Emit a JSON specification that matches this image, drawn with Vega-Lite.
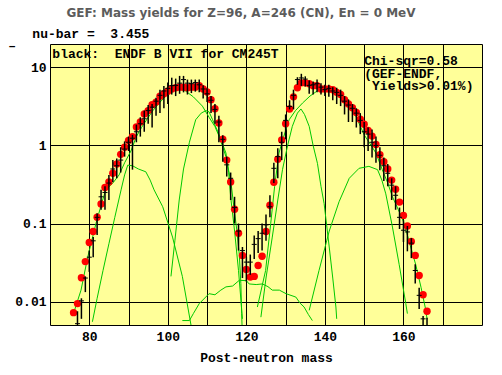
{
  "$schema": "https://vega.github.io/schema/vega-lite/v6.json",
  "autosize": "none",
  "width": 432,
  "height": 281,
  "padding": {"left": 50, "top": 44, "right": 20, "bottom": 50},
  "background": "white",
  "title": {
    "text": "GEF: Mass yields for Z=96, A=246 (CN), En = 0 MeV",
    "font": "DejaVu Sans",
    "fontSize": 12,
    "fontWeight": "bold",
    "color": "#5c5c5c",
    "anchor": "middle",
    "frame": "group",
    "dx": -25,
    "offset": 8
  },
  "config": {
    "view": {"fill": "#ffff99", "stroke": "black", "strokeWidth": 1},
    "axis": {
      "labelFont": "Liberation Mono",
      "labelFontSize": 13,
      "labelFontWeight": "bold",
      "labelColor": "black",
      "titleFont": "Liberation Mono",
      "titleFontSize": 13,
      "titleFontWeight": "bold",
      "titleColor": "black",
      "ticks": false,
      "domain": false,
      "grid": true,
      "gridColor": "black",
      "gridOpacity": 1,
      "gridWidth": 1
    }
  },
  "datasets": {
    "gef": [
      {"A":76,"y":0.0072},{"A":77,"y":0.0094},{"A":78,"y":0.0202},{"A":79,"y":0.0325},{"A":80,"y":0.057},
      {"A":81,"y":0.079},{"A":82,"y":0.12},{"A":83,"y":0.178},{"A":84,"y":0.29},{"A":85,"y":0.34},
      {"A":86,"y":0.44},{"A":87,"y":0.58},{"A":88,"y":0.77},{"A":89,"y":0.95},{"A":90,"y":1.16},
      {"A":91,"y":1.3},{"A":92,"y":1.73},{"A":93,"y":2.0},{"A":94,"y":2.54},{"A":95,"y":2.8},
      {"A":96,"y":3.34},{"A":97,"y":3.6},{"A":98,"y":4.27},{"A":99,"y":4.6},{"A":100,"y":4.95},
      {"A":101,"y":5.3},{"A":102,"y":5.5},{"A":103,"y":5.6},{"A":104,"y":5.6},{"A":105,"y":5.5},
      {"A":106,"y":5.6},{"A":107,"y":5.6},{"A":108,"y":5.85},{"A":109,"y":5.3},{"A":110,"y":4.85},
      {"A":111,"y":3.87},{"A":112,"y":2.96},{"A":113,"y":1.94},{"A":114,"y":1.2},{"A":115,"y":0.65},
      {"A":116,"y":0.34},{"A":117,"y":0.152},{"A":118,"y":0.075},{"A":119,"y":0.039},{"A":120,"y":0.0257},
      {"A":121,"y":0.0206},{"A":122,"y":0.021},{"A":123,"y":0.029},{"A":124,"y":0.038},{"A":125,"y":0.079},
      {"A":126,"y":0.171},{"A":127,"y":0.338},{"A":128,"y":0.668},{"A":129,"y":1.18},{"A":130,"y":1.9},
      {"A":131,"y":2.94},{"A":132,"y":4.2},{"A":133,"y":5.5},{"A":134,"y":6.35},{"A":135,"y":6.35},
      {"A":136,"y":6.2},{"A":137,"y":5.85},{"A":138,"y":5.85},{"A":139,"y":5.3},{"A":140,"y":5.3},
      {"A":141,"y":5.3},{"A":142,"y":5.2},{"A":143,"y":4.8},{"A":144,"y":4.5},{"A":145,"y":3.85},
      {"A":146,"y":3.4},{"A":147,"y":3.05},{"A":148,"y":2.65},{"A":149,"y":2.17},{"A":150,"y":1.87},
      {"A":151,"y":1.56},{"A":152,"y":1.32},{"A":153,"y":1.03},{"A":154,"y":0.76},{"A":155,"y":0.62},
      {"A":156,"y":0.5},{"A":157,"y":0.36},{"A":158,"y":0.275},{"A":159,"y":0.188},{"A":160,"y":0.127},
      {"A":161,"y":0.093},{"A":162,"y":0.059},{"A":163,"y":0.039},{"A":164,"y":0.0215},{"A":165,"y":0.0122},
      {"A":166,"y":0.0075}
    ],
    "endf": [
      {"A":77,"y":0.0052,"lo":0.0035,"hi":0.0075},{"A":78,"y":0.0102,"lo":0.006,"hi":0.011},
      {"A":79,"y":0.02,"lo":0.0132,"hi":0.021},{"A":80,"y":0.037,"lo":0.024,"hi":0.045},
      {"A":81,"y":0.06,"lo":0.037,"hi":0.067},{"A":82,"y":0.12,"lo":0.071,"hi":0.135},
      {"A":83,"y":0.22,"lo":0.15,"hi":0.27},{"A":84,"y":0.25,"lo":0.15,"hi":0.3},
      {"A":85,"y":0.33,"lo":0.2,"hi":0.42},{"A":86,"y":0.5,"lo":0.34,"hi":0.65},
      {"A":87,"y":0.55,"lo":0.38,"hi":0.68},{"A":88,"y":0.65,"lo":0.45,"hi":0.95},
      {"A":89,"y":0.9,"lo":0.72,"hi":1.13},{"A":90,"y":1.1,"lo":0.85,"hi":1.3},
      {"A":91,"y":1.24,"lo":0.49,"hi":1.37},{"A":92,"y":1.5,"lo":1.1,"hi":1.85},
      {"A":93,"y":1.9,"lo":1.3,"hi":2.3},{"A":94,"y":2.2,"lo":1.5,"hi":2.8},
      {"A":95,"y":2.8,"lo":1.9,"hi":3.3},{"A":96,"y":3.1,"lo":1.7,"hi":3.4},
      {"A":97,"y":3.7,"lo":2.4,"hi":4.1},{"A":98,"y":4.4,"lo":2.6,"hi":5.2},
      {"A":99,"y":5.0,"lo":3.0,"hi":5.8},{"A":100,"y":5.4,"lo":3.4,"hi":6.4},
      {"A":101,"y":5.85,"lo":4.5,"hi":7.4},{"A":102,"y":5.9,"lo":4.3,"hi":7.2},
      {"A":103,"y":6.3,"lo":4.6,"hi":7.8},{"A":104,"y":7.0,"lo":4.8,"hi":7.8},
      {"A":105,"y":6.3,"lo":4.5,"hi":7.0},{"A":106,"y":6.2,"lo":4.7,"hi":7.0},
      {"A":107,"y":6.4,"lo":4.9,"hi":7.0},{"A":108,"y":6.0,"lo":4.8,"hi":7.0},
      {"A":109,"y":5.3,"lo":4.0,"hi":5.9},{"A":110,"y":4.6,"lo":3.6,"hi":5.4},
      {"A":111,"y":3.8,"lo":2.6,"hi":4.3},{"A":112,"y":2.9,"lo":1.9,"hi":3.4},
      {"A":113,"y":2.0,"lo":1.1,"hi":2.4},{"A":114,"y":1.2,"lo":0.62,"hi":1.35},
      {"A":115,"y":0.565,"lo":0.4,"hi":0.72},{"A":116,"y":0.38,"lo":0.2,"hi":0.45},
      {"A":117,"y":0.16,"lo":0.1,"hi":0.22},{"A":118,"y":0.08,"lo":0.045,"hi":0.1},
      {"A":119,"y":0.045,"lo":0.02,"hi":0.05},{"A":120,"y":0.032,"lo":0.018,"hi":0.037},
      {"A":121,"y":0.032,"lo":0.022,"hi":0.04},{"A":122,"y":0.054,"lo":0.035,"hi":0.07},
      {"A":123,"y":0.064,"lo":0.042,"hi":0.08},{"A":124,"y":0.075,"lo":0.045,"hi":0.1},
      {"A":125,"y":0.096,"lo":0.06,"hi":0.13},{"A":126,"y":0.164,"lo":0.12,"hi":0.23},
      {"A":127,"y":0.51,"lo":0.33,"hi":0.6},{"A":128,"y":0.72,"lo":0.38,"hi":0.92},
      {"A":129,"y":1.1,"lo":0.65,"hi":1.5},{"A":130,"y":2.1,"lo":1.2,"hi":2.5},
      {"A":131,"y":3.17,"lo":2.9,"hi":3.8},{"A":132,"y":4.4,"lo":2.9,"hi":5.2},
      {"A":133,"y":7.0,"lo":6.0,"hi":7.5},{"A":134,"y":7.35,"lo":5.8,"hi":8.3},
      {"A":135,"y":7.1,"lo":5.7,"hi":7.7},{"A":136,"y":5.9,"lo":4.6,"hi":6.8},
      {"A":137,"y":6.0,"lo":4.5,"hi":6.6},{"A":138,"y":6.2,"lo":4.8,"hi":7.0},
      {"A":139,"y":5.6,"lo":4.5,"hi":6.3},{"A":140,"y":5.2,"lo":4.3,"hi":6.0},
      {"A":141,"y":5.4,"lo":4.2,"hi":6.0},{"A":142,"y":5.0,"lo":3.8,"hi":5.6},
      {"A":143,"y":4.8,"lo":3.4,"hi":5.5},{"A":144,"y":4.4,"lo":3.2,"hi":5.2},
      {"A":145,"y":3.7,"lo":2.5,"hi":4.3},{"A":146,"y":3.3,"lo":2.0,"hi":3.9},
      {"A":147,"y":3.0,"lo":2.0,"hi":3.4},{"A":148,"y":2.6,"lo":1.7,"hi":3.0},
      {"A":149,"y":2.1,"lo":1.4,"hi":2.6},{"A":150,"y":1.5,"lo":0.95,"hi":2.0},
      {"A":151,"y":1.4,"lo":0.85,"hi":1.7},{"A":152,"y":1.1,"lo":0.7,"hi":1.6},
      {"A":153,"y":1.0,"lo":0.6,"hi":1.3},{"A":154,"y":0.75,"lo":0.48,"hi":0.95},
      {"A":155,"y":0.55,"lo":0.35,"hi":0.7},{"A":156,"y":0.44,"lo":0.3,"hi":0.58},
      {"A":157,"y":0.31,"lo":0.2,"hi":0.38},{"A":158,"y":0.23,"lo":0.15,"hi":0.3},
      {"A":159,"y":0.12,"lo":0.085,"hi":0.16},{"A":160,"y":0.082,"lo":0.058,"hi":0.11},
      {"A":161,"y":0.078,"lo":0.044,"hi":0.093},{"A":162,"y":0.056,"lo":0.036,"hi":0.065},
      {"A":163,"y":0.025,"lo":0.017,"hi":0.03},{"A":164,"y":0.012,"lo":0.008,"hi":0.015},
      {"A":165,"y":0.006,"lo":0.0045,"hi":0.0065},{"A":166,"y":0.0045,"lo":0.003,"hi":0.0062}
    ],
    "green": [
      {"c":"L2","A":76.2,"y":0.0076},{"c":"L2","A":77.9,"y":0.014},{"c":"L2","A":79.6,"y":0.037},{"c":"L2","A":81.7,"y":0.1},
      {"c":"L2","A":83.4,"y":0.2},{"c":"L2","A":84.2,"y":0.27},{"c":"L2","A":86,"y":0.33},{"c":"L2","A":87.6,"y":0.42},
      {"c":"L2","A":89,"y":0.6},{"c":"L2","A":90.6,"y":0.85},{"c":"L2","A":92,"y":1.3},{"c":"L2","A":93.3,"y":1.7},
      {"c":"L2","A":94.6,"y":2.14},{"c":"L2","A":96.2,"y":2.8},{"c":"L2","A":97.8,"y":3.5},{"c":"L2","A":99.5,"y":4.3},
      {"c":"L2","A":101,"y":4.9},{"c":"L2","A":102.2,"y":5.2},{"c":"L2","A":103.2,"y":5.3},{"c":"L2","A":104.5,"y":5.0},
      {"c":"L2","A":106.5,"y":4.2},{"c":"L2","A":108.8,"y":3.2},{"c":"L2","A":110.5,"y":2.3},{"c":"L2","A":112,"y":1.75},
      {"c":"L2","A":113.1,"y":1.3},{"c":"L2","A":114.8,"y":0.72},{"c":"L2","A":116.1,"y":0.33},{"c":"L2","A":116.9,"y":0.15},
      {"c":"L2","A":117.6,"y":0.08},{"c":"L2","A":118.2,"y":0.04},{"c":"L2","A":118.6,"y":0.017},{"c":"L2","A":118.8,"y":0.007},
      {"c":"L2","A":118.9,"y":0.005},
      {"c":"L3","A":80.8,"y":0.0055},{"c":"L3","A":82,"y":0.011},{"c":"L3","A":83.5,"y":0.025},{"c":"L3","A":85,"y":0.055},
      {"c":"L3","A":86.5,"y":0.12},{"c":"L3","A":88.1,"y":0.27},{"c":"L3","A":89,"y":0.42},{"c":"L3","A":89.8,"y":0.56},
      {"c":"L3","A":91,"y":0.55},{"c":"L3","A":92.5,"y":0.5},{"c":"L3","A":94.4,"y":0.46},{"c":"L3","A":95.5,"y":0.36},
      {"c":"L3","A":96.5,"y":0.27},{"c":"L3","A":98.7,"y":0.164},{"c":"L3","A":101.2,"y":0.067},{"c":"L3","A":103.7,"y":0.021},
      {"c":"L3","A":105.9,"y":0.005},
      {"c":"L1","A":100.8,"y":0.021},{"c":"L1","A":101.8,"y":0.06},{"c":"L1","A":102.9,"y":0.2},{"c":"L1","A":104,"y":0.5},
      {"c":"L1","A":105.5,"y":1.1},{"c":"L1","A":107.1,"y":2.14},{"c":"L1","A":108.5,"y":2.6},{"c":"L1","A":109.7,"y":2.8},
      {"c":"L1","A":110.5,"y":2.7},{"c":"L1","A":111.4,"y":2.14},{"c":"L1","A":113,"y":1.4},{"c":"L1","A":114.8,"y":0.8},
      {"c":"L1","A":115.5,"y":0.45},{"c":"L1","A":116,"y":0.22},{"c":"L1","A":117,"y":0.08},{"c":"L1","A":118,"y":0.025},
      {"c":"L1","A":119,"y":0.006},
      {"c":"SL","A":103.7,"y":0.0057},{"c":"SL","A":105.5,"y":0.0057},{"c":"SL","A":106.5,"y":0.007},{"c":"SL","A":108,"y":0.0094},
      {"c":"SL","A":110.5,"y":0.0126},{"c":"SL","A":112,"y":0.0122},{"c":"SL","A":113.5,"y":0.014},{"c":"SL","A":114.8,"y":0.0154},
      {"c":"SL","A":116.5,"y":0.0158},{"c":"SL","A":118.2,"y":0.0187},{"c":"SL","A":120,"y":0.0185},{"c":"SL","A":120.7,"y":0.0168},
      {"c":"SL","A":122.5,"y":0.0165},{"c":"SL","A":124.1,"y":0.0168},{"c":"SL","A":125.5,"y":0.0155},{"c":"SL","A":126.6,"y":0.014},
      {"c":"SL","A":128.4,"y":0.014},{"c":"SL","A":130.1,"y":0.0126},{"c":"SL","A":132.6,"y":0.0114},{"c":"SL","A":133.7,"y":0.0095},
      {"c":"SL","A":134.7,"y":0.0085},{"c":"SL","A":135.8,"y":0.0068},{"c":"SL","A":136.8,"y":0.0057},
      {"c":"H1","A":123.7,"y":0.0063},{"c":"H1","A":125,"y":0.02},{"c":"H1","A":126.6,"y":0.067},{"c":"H1","A":128,"y":0.2},
      {"c":"H1","A":129.2,"y":0.49},{"c":"H1","A":130.5,"y":1.0},{"c":"H1","A":131.7,"y":1.76},{"c":"H1","A":133,"y":2.6},
      {"c":"H1","A":133.9,"y":2.94},{"c":"H1","A":134.8,"y":2.5},{"c":"H1","A":136,"y":1.76},{"c":"H1","A":137,"y":1.0},
      {"c":"H1","A":138.1,"y":0.59},{"c":"H1","A":139,"y":0.3},{"c":"H1","A":139.8,"y":0.18},{"c":"H1","A":141.1,"y":0.05},
      {"c":"H1","A":142,"y":0.02},{"c":"H1","A":142.8,"y":0.0085},{"c":"H1","A":143,"y":0.006},
      {"c":"H2","A":122.8,"y":0.0085},{"c":"H2","A":124.9,"y":0.025},{"c":"H2","A":126.2,"y":0.1},{"c":"H2","A":127.2,"y":0.3},
      {"c":"H2","A":128.3,"y":0.8},{"c":"H2","A":129.5,"y":1.3},{"c":"H2","A":130.9,"y":2.14},{"c":"H2","A":132.5,"y":2.8},
      {"c":"H2","A":134.3,"y":3.5},{"c":"H2","A":136.2,"y":4.3},{"c":"H2","A":138.5,"y":5.2},{"c":"H2","A":141.1,"y":5.5},
      {"c":"H2","A":142.5,"y":5.0},{"c":"H2","A":144.5,"y":4.3},{"c":"H2","A":146.2,"y":3.3},{"c":"H2","A":147.9,"y":2.36},
      {"c":"H2","A":150,"y":1.37},{"c":"H2","A":151.5,"y":1.05},{"c":"H2","A":153,"y":0.8},{"c":"H2","A":154.6,"y":0.49},
      {"c":"H2","A":156,"y":0.33},{"c":"H2","A":157.2,"y":0.22},{"c":"H2","A":158.7,"y":0.15},{"c":"H2","A":160.2,"y":0.1},
      {"c":"H2","A":161.6,"y":0.055},{"c":"H2","A":163.1,"y":0.03},{"c":"H2","A":164.5,"y":0.015},{"c":"H2","A":165.7,"y":0.0077},
      {"c":"H2","A":166,"y":0.006},
      {"c":"H3","A":136,"y":0.0077},{"c":"H3","A":138.5,"y":0.025},{"c":"H3","A":141.1,"y":0.08},{"c":"H3","A":143.6,"y":0.19},
      {"c":"H3","A":146.2,"y":0.38},{"c":"H3","A":148.7,"y":0.51},{"c":"H3","A":151.2,"y":0.54},{"c":"H3","A":153.4,"y":0.49},
      {"c":"H3","A":154.5,"y":0.36},{"c":"H3","A":155.5,"y":0.24},{"c":"H3","A":157.2,"y":0.09},{"c":"H3","A":158.9,"y":0.03},
      {"c":"H3","A":160.6,"y":0.0094},{"c":"H3","A":161,"y":0.007}
    ],
    "notes": [
      {"A":65.5,"y":26.6,"t":"nu-bar =\u00a0\u00a03.455"},
      {"A":59.4,"y":18.6,"t":"\u2013"},
      {"A":70.6,"y":14.7,"t":"black:\u00a0\u00a0ENDF B VII for CM245T"},
      {"A":150,"y":12.05,"t":"Chi-sqr=0.58"},
      {"A":150,"y":8.3,"t":"(GEF-ENDF,"},
      {"A":152,"y":5.87,"t":"Yields>0.01%)"}
    ]
  },
  "layer": [
    {
      "data": {"name": "green"},
      "mark": {"type": "line", "color": "#00c800", "strokeWidth": 1, "clip": true},
      "encoding": {
        "x": {
          "field": "A", "type": "quantitative",
          "scale": {"domain": [70, 180], "nice": false, "zero": false},
          "axis": {
            "values": [80, 90, 100, 110, 120, 130, 140, 150, 160, 170],
            "labelExpr": "datum.value % 20 == 0 ? datum.label : ''",
            "labelPadding": 5,
            "title": "Post-neutron mass",
            "titlePadding": 8
          }
        },
        "y": {
          "field": "y", "type": "quantitative",
          "scale": {"type": "log", "domain": [0.005, 20], "nice": false},
          "axis": {
            "values": [0.01, 0.1, 1, 10],
            "format": "~g",
            "labelPadding": 4,
            "title": null
          }
        },
        "detail": {"field": "c"}
      }
    },
    {
      "data": {"name": "gef"},
      "mark": {"type": "circle", "color": "#ff0000", "opacity": 1, "size": 55, "clip": true},
      "encoding": {
        "x": {"field": "A", "type": "quantitative"},
        "y": {"field": "y", "type": "quantitative"}
      }
    },
    {
      "data": {"name": "endf"},
      "mark": {"type": "rule", "color": "black", "strokeWidth": 1.5, "clip": true},
      "encoding": {
        "x": {"field": "A", "type": "quantitative"},
        "y": {"field": "lo", "type": "quantitative"},
        "y2": {"field": "hi"}
      }
    },
    {
      "data": {"name": "endf"},
      "mark": {"type": "tick", "orient": "horizontal", "color": "black", "size": 5, "thickness": 1, "opacity": 1, "clip": true},
      "encoding": {
        "x": {"field": "A", "type": "quantitative"},
        "y": {"field": "y", "type": "quantitative"}
      }
    },
    {
      "data": {"name": "notes"},
      "mark": {"type": "text", "align": "left", "baseline": "middle", "font": "Liberation Mono", "fontSize": 13, "fontWeight": "bold", "color": "black"},
      "encoding": {
        "x": {"field": "A", "type": "quantitative"},
        "y": {"field": "y", "type": "quantitative"},
        "text": {"field": "t"}
      }
    }
  ]
}
